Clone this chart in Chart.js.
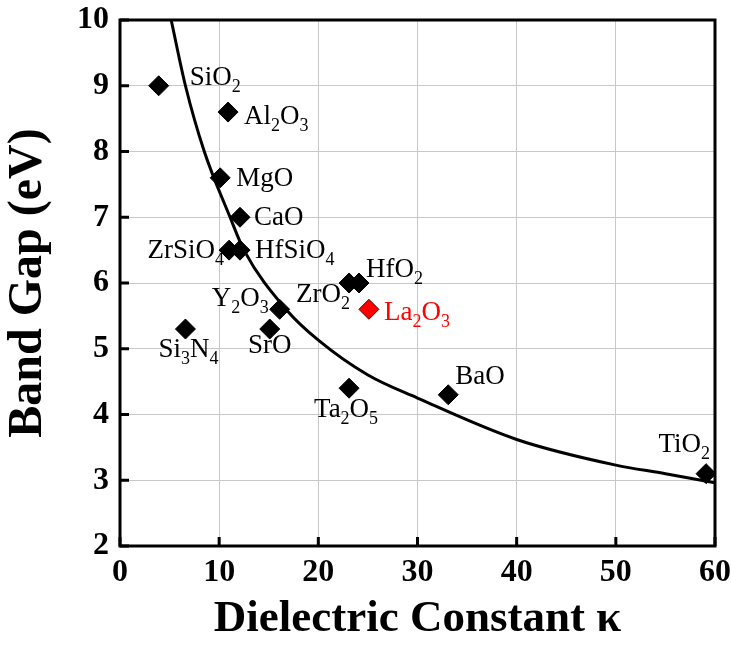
<!DOCTYPE html>
<html><head><meta charset="utf-8">
<script src="https://cdn.jsdelivr.net/npm/chart.js@4/dist/chart.umd.min.js"></script>
<style>html,body{margin:0;padding:0;background:#fff;} #wrap{width:731px;height:646px;}</style>
</head><body><div id="wrap"><canvas id="c" width="731" height="646"></canvas></div>
<script>
// ---- data ----
const materials = ['SiO2','Al2O3','MgO','CaO','ZrSiO4','HfSiO4','Y2O3','SrO','Si3N4','ZrO2','HfO2','La2O3','Ta2O5','BaO','TiO2'];
const kappa     = [3.9, 10.9, 10.1, 12.1, 11.0, 12.1, 16.1, 15.1, 6.6, 23.1, 24.1, 25.1, 23.1, 33.1, 59.1];
const bandGap   = [9.0, 8.6, 7.6, 7.0, 6.5, 6.5, 5.6, 5.3, 5.3, 6.0, 6.0, 5.6, 4.4, 4.3, 3.1];
const highlighted = ['La2O3'];
// trend curve
const curveK  = [5.16, 6.6, 8.5, 11.1, 12.5, 16.8, 20.0, 25.0, 30.0, 40.0, 50.0, 55.0, 60.0];
const curveEg = [10.0, 9.0, 8.0, 7.0, 6.5, 5.59, 5.13, 4.6, 4.25, 3.62, 3.23, 3.1, 2.96];
const xTicks = [0, 10, 20, 30, 40, 50, 60];
const yTicks = [2, 3, 4, 5, 6, 7, 8, 9, 10];
const xTitle = 'Dielectric Constant \u03ba';
const yTitle = 'Band Gap (eV)';

// ---- label placement (styling: pixel offsets from each marker) ----
const labelStyle = {
  'SiO2':   [31, -1, 'left'],
  'Al2O3':  [16, 12, 'left'],
  'MgO':    [16, 8, 'left'],
  'CaO':    [14, 8, 'left'],
  'ZrSiO4': [-5, 8, 'right'],
  'HfSiO4': [15, 8, 'left'],
  'Y2O3':   [-11, -3, 'right'],
  'SrO':    [0, 24, 'center'],
  'Si3N4':  [3, 28, 'center'],
  'ZrO2':   [1, 19, 'right'],
  'HfO2':   [7, -6, 'left'],
  'La2O3':  [15, 11, 'left'],
  'Ta2O5':  [-3, 29, 'center'],
  'BaO':    [7, -11, 'left'],
  'TiO2':   [4, -22, 'right']
};
const SERIF = '"Liberation Serif", "Times New Roman", serif';
const mainFont = 'normal 27px ' + SERIF;
const subFont = 'normal 18px ' + SERIF;

function drawFormula(ctx, text, x, y, align, color) {
  const parts = [];
  for (const ch of text) {
    const sub = /[0-9]/.test(ch);
    if (parts.length && parts[parts.length-1].sub === sub) parts[parts.length-1].t += ch;
    else parts.push({t: ch, sub});
  }
  let total = 0;
  for (const p of parts) { ctx.font = p.sub ? subFont : mainFont; p.w = ctx.measureText(p.t).width; total += p.w; }
  let cx = align === 'left' ? x : align === 'right' ? x - total : x - total / 2;
  ctx.fillStyle = color;
  ctx.textAlign = 'left';
  ctx.textBaseline = 'alphabetic';
  for (const p of parts) {
    ctx.font = p.sub ? subFont : mainFont;
    ctx.fillText(p.t, cx, p.sub ? y + 7 : y);
    cx += p.w;
  }
}

const framePlugin = {
  id: 'frame',
  beforeDatasetsDraw(chart) {
    const {ctx, chartArea: a, scales} = chart;
    ctx.save();
    ctx.strokeStyle = '#000';
    ctx.lineWidth = 3;
    ctx.strokeRect(a.left, a.top, a.right - a.left, a.bottom - a.top);
    ctx.beginPath();
    for (const v of xTicks) {
      const px = scales.x.getPixelForValue(v);
      ctx.moveTo(px, a.bottom); ctx.lineTo(px, a.bottom - 9);
    }
    for (const v of yTicks) {
      const py = scales.y.getPixelForValue(v);
      ctx.moveTo(a.left, py); ctx.lineTo(a.left + 9, py);
    }
    ctx.stroke();
    ctx.restore();
  },
  afterDatasetsDraw(chart) {
    const {ctx, scales} = chart;
    ctx.save();
    materials.forEach((m, i) => {
      const px = scales.x.getPixelForValue(kappa[i]);
      const py = scales.y.getPixelForValue(bandGap[i]);
      const [dx, dy, al] = labelStyle[m];
      drawFormula(ctx, m, px + dx, py + dy, al, highlighted.includes(m) ? '#ff0000' : '#000');
    });
    ctx.restore();
  }
};

const pointData = kappa.map((k, i) => ({x: k, y: bandGap[i]}));
const curveData = curveK.map((k, i) => ({x: k, y: curveEg[i]}));

new Chart(document.getElementById('c'), {
  type: 'scatter',
  data: {
    datasets: [
      {
        label: 'materials',
        data: pointData,
        pointStyle: 'rectRot',
        pointRadius: 10,
        pointHoverRadius: 10,
        pointBackgroundColor: materials.map(m => highlighted.includes(m) ? '#ff0000' : '#000'),
        pointBorderColor: materials.map(m => highlighted.includes(m) ? '#5a0000' : '#000'),
        pointBorderWidth: 1,
        showLine: false
      },
      {
        label: 'trend',
        data: curveData,
        showLine: true,
        borderColor: '#000',
        borderWidth: 3,
        pointRadius: 0,
        cubicInterpolationMode: 'monotone',
        fill: false
      }
    ]
  },
  options: {
    responsive: false,
    devicePixelRatio: 1,
    animation: false,
    layout: {padding: {left: 0, right: 16, top: 20, bottom: 0}},
    plugins: {legend: {display: false}, tooltip: {enabled: false}},
    scales: {
      x: {
        type: 'linear', min: 0, max: 60,
        afterBuildTicks: s => { s.ticks = xTicks.map(v => ({value: v})); },
        afterFit: s => { s.height = 100; s.paddingLeft = 0; s.paddingRight = 0; },
        grid: {color: '#c8c8c8', lineWidth: 1, drawTicks: false},
        border: {display: false},
        ticks: {color: '#000', padding: 8, font: {family: SERIF, size: 32, weight: 'bold'}, maxRotation: 0},
        title: {display: true, text: xTitle, color: '#000', padding: {top: 0, bottom: 0},
                font: {family: SERIF, size: 45, weight: 'bold', lineHeight: 1.2}}
      },
      y: {
        type: 'linear', min: 2, max: 10,
        afterBuildTicks: s => { s.ticks = yTicks.map(v => ({value: v})); },
        afterFit: s => { s.width = 120; s.paddingTop = 0; s.paddingBottom = 0; },
        grid: {color: '#c8c8c8', lineWidth: 1, drawTicks: false},
        border: {display: false},
        ticks: {color: '#000', padding: 11, font: {family: SERIF, size: 32, weight: 'bold'}},
        title: {display: true, text: yTitle, color: '#000', padding: {top: 0, bottom: 0},
                font: {family: SERIF, size: 48, weight: 'bold', lineHeight: 1.2}}
      }
    }
  },
  plugins: [framePlugin]
});
</script>
</body></html>
